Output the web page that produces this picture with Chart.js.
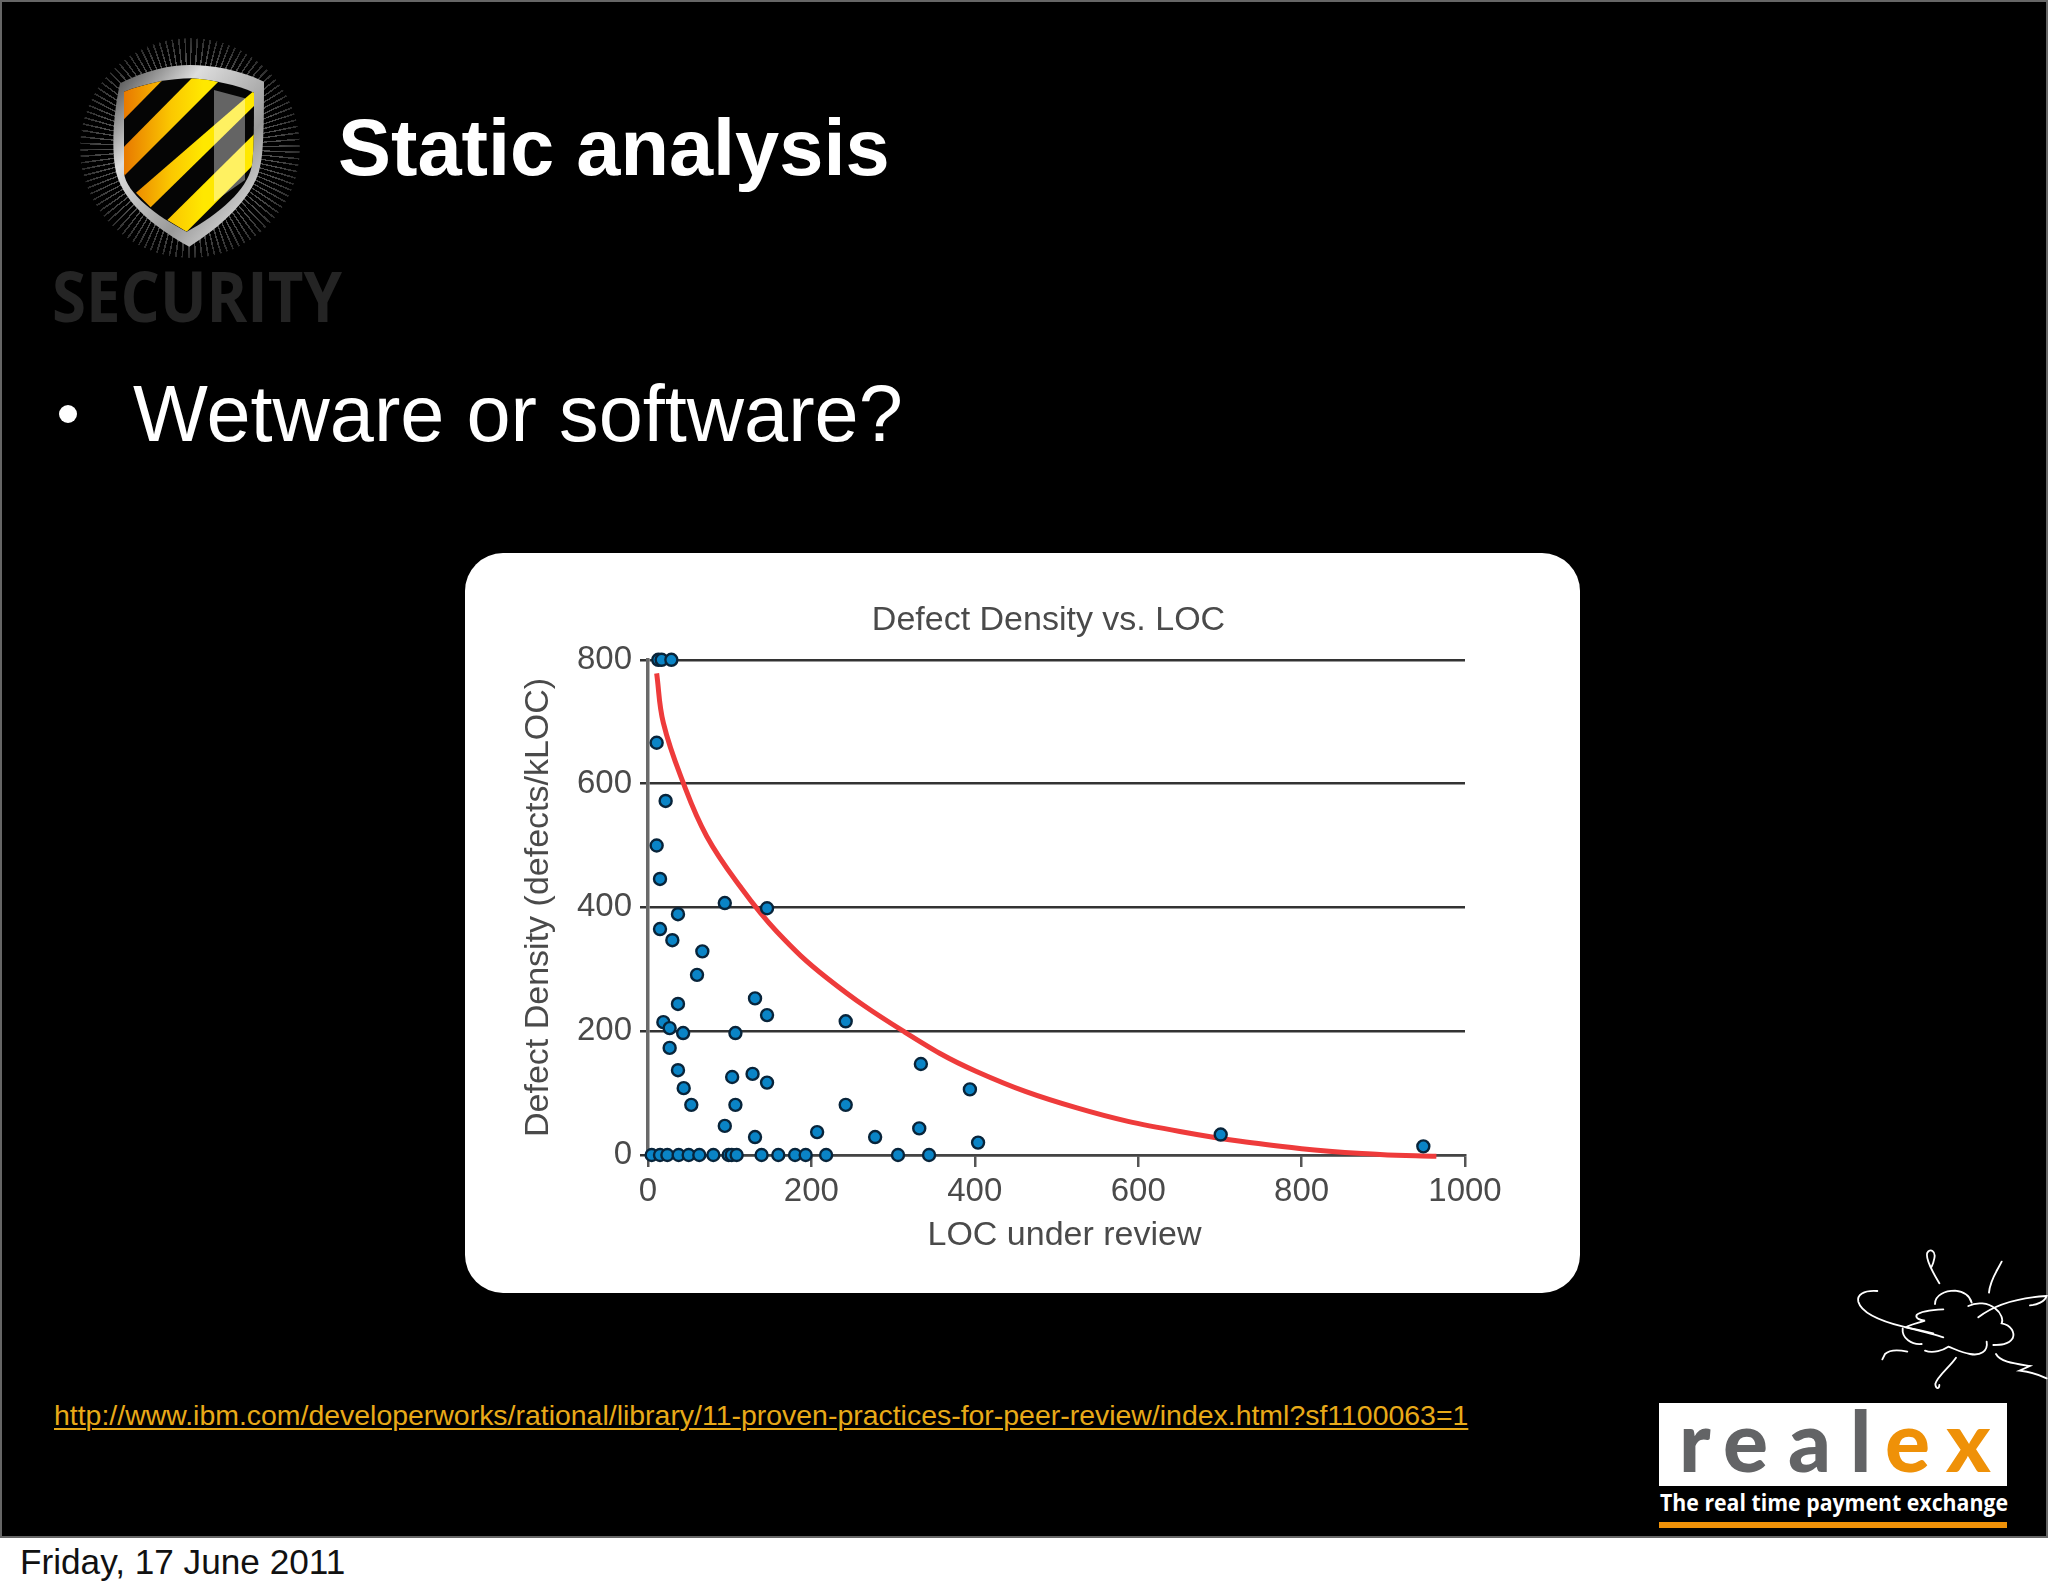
<!DOCTYPE html>
<html><head><meta charset="utf-8">
<style>
html,body{margin:0;padding:0;background:#fff;width:2048px;height:1593px;overflow:hidden;font-family:"Liberation Sans",Arial,sans-serif}
#slide{position:absolute;left:0;top:0;width:2044px;height:1534px;background:#000;border:2px solid #666}
.t{position:absolute;white-space:nowrap;margin:0;line-height:1}
#title{left:338px;top:108px;font-size:79.4px;font-weight:bold;color:#fff}
#bullet{left:133px;top:374px;font-size:79.3px;color:#fff}
#dot{position:absolute;left:59px;top:405px;width:18px;height:18px;border-radius:50%;background:#fff}
#panel{position:absolute;left:465px;top:553px;width:1115px;height:740px;background:#fff;border-radius:38px}
#wrap{position:absolute;left:465px;top:553px;width:1166px;height:740px}
#wrap canvas{filter:blur(.7px)}
#link{left:54px;top:1401px;font-size:28.45px;color:#e8aa18;text-decoration:underline;text-decoration-thickness:2px;text-underline-offset:3px}
#date{left:20px;top:1544px;font-size:35.2px;color:#111}
#rays{position:absolute;left:80px;top:38px;width:220px;height:220px;border-radius:50%;
background:repeating-conic-gradient(#999 0deg .9deg,transparent .9deg 3.4deg);
-webkit-mask-image:radial-gradient(circle,#000 55%,transparent 92%);mask-image:radial-gradient(circle,#000 55%,transparent 92%);opacity:.5;filter:blur(.5px)}
svg{position:absolute;left:0;top:0}
</style></head><body>
<div id="slide"></div>
<div id="rays"></div>
<svg width="2048" height="1593" viewBox="0 0 2048 1593">
<defs>
<linearGradient id="rim" x1="0" y1="0" x2="1" y2="1"><stop offset="0" stop-color="#3a3a3a"/><stop offset=".3" stop-color="#ddd"/><stop offset=".65" stop-color="#999"/><stop offset="1" stop-color="#fff"/></linearGradient>
<linearGradient id="band" gradientUnits="userSpaceOnUse" x1="190" y1="0" x2="430" y2="0"><stop offset="0" stop-color="#e87800"/><stop offset=".6" stop-color="#fbc800"/><stop offset="1" stop-color="#ffe800"/></linearGradient>
<clipPath id="inner"><path d="M192,215C260,190 330,175 395,175C460,180 530,195 582,218C582,300 582,400 575,440C560,510 480,580 380,635C290,590 200,520 192,460Z"/></clipPath>
</defs>
<g transform="translate(60,20) scale(.33333)">
<path fill="url(#rim)" d="M180,190C260,150 330,135 390,135C470,135 550,155 612,185C612,280 612,400 600,440C585,520 500,610 388,680C280,620 180,540 165,440C155,380 160,280 180,190Z"/>
<path fill="#050505" d="M192,215C260,190 330,175 395,175C460,180 530,195 582,218C582,300 582,400 575,440C560,510 480,580 380,635C290,590 200,520 192,460Z"/>
<g clip-path="url(#inner)" fill="url(#band)">
<polygon points="180,215 308,180 180,310"/>
<polygon points="180,392 400,170 475,185 180,480"/>
<polygon points="228,518 590,205 590,250 272,562"/>
<polygon points="322,600 590,335 590,425 380,635"/>
<polygon fill="#fff" fill-opacity=".38" points="462,210 555,235 555,480 462,545"/>
</g>
<text x="-24" y="905" font-family="Open Sans" font-weight="700" font-size="212" fill="#242424" textLength="870" lengthAdjust="spacingAndGlyphs">SECURITY</text>
</g>
<rect x="1659" y="1403" width="348" height="83" fill="#fff"/>
<text font-family="Lato" font-weight="900" font-size="84" y="1471.5" x="1679 1723 1788 1850" fill="#636466">real</text>
<text font-family="Lato" font-weight="900" font-size="84" y="1471.5" x="1885 1946" fill="#ef9108">ex</text>
<text x="1660" y="1511" font-family="Open Sans" font-weight="700" font-size="23" fill="#fff" textLength="348" lengthAdjust="spacingAndGlyphs">The real time payment exchange</text>
<rect x="1659" y="1522" width="348" height="6" fill="#ef9108"/>
<g transform="translate(1600,1230) scale(.33333)" fill="none" stroke="#fff" stroke-width="5.5" stroke-linecap="round">
<path d="M832,183C790,180 770,195 775,215C785,250 850,275 910,290C950,300 1000,312 1030,322"/>
<path d="M1030,238C990,240 960,245 950,255C945,265 960,270 975,272C950,280 925,285 918,292C950,298 980,305 1000,310"/>
<path d="M1005,222C1005,195 1035,182 1065,182C1095,185 1110,200 1115,218"/>
<path d="M1105,228C1130,215 1165,218 1185,235C1205,250 1210,270 1205,280C1235,285 1245,310 1238,325C1225,345 1200,345 1180,345"/>
<path d="M1160,335C1165,365 1140,378 1110,372C1085,368 1060,355 1045,350C1030,360 1000,372 975,362"/>
<path d="M965,342C935,345 905,325 908,295"/>
<path d="M1018,160C1000,130 975,85 982,68C990,55 1008,62 1003,85C1000,100 995,110 995,110"/>
<path d="M1205,95C1190,125 1170,150 1167,188"/>
<path d="M1135,262C1170,235 1230,205 1340,198C1335,215 1310,225 1290,226"/>
<path d="M1068,383C1050,410 1010,440 1006,462C1007,478 1018,478 1018,465"/>
<path d="M922,365C900,360 870,358 855,372L847,388"/>
<path d="M1188,372C1200,395 1240,400 1290,408L1258,422C1285,425 1320,435 1340,445"/>
</g>
</svg>
<h1 class="t" id="title">Static analysis</h1>
<div id="dot"></div>
<p class="t" id="bullet">Wetware or software?</p>
<div id="panel"></div>
<div id="wrap"><canvas id="c" width="1166" height="740"></canvas></div>
<a class="t" id="link">http://www.ibm.com/developerworks/rational/library/11-proven-practices-for-peer-review/index.html?sf1100063=1</a>
<p class="t" id="date">Friday, 17 June 2011</p>
<script src="https://cdn.jsdelivr.net/npm/chart.js@4"></script>
<script>
const chartTitle = "Defect Density vs. LOC";
const xTitle = "LOC under review";
const yTitle = "Defect Density (defects/kLOC)";
const xTicks = [0, 200, 400, 600, 800, 1000];
const yTicks = [0, 200, 400, 600, 800];
const reviewLoc = [12.6,16.7,28.6,10.6,21.6,10.6,14.7,94,145.7,36.7,14.7,29.8,66.5,60,131,36.7,145.7,242,18.8,26.5,43,107,26.5,334,36.7,128,103,145.7,43.7,394,53,107,242,94,207,332,131,278,404,701,949,4.5,14.7,23.7,37.5,49.8,62.8,80,98.7,102.4,108.5,139,159.5,180,193,218,306,344];
const reviewDensity = [800,800,800,666,572,500,446,407,398.6,389,365,347,329,291,253,244,226,216,214.6,205,197,197,173,147,137,131,126,117,108,106,81,81,81,47,37,43,29,29,20,33,14,0,0,0,0,0,0,0,0,0,0,0,0,0,0,0,0,0];
const trendLoc = [10.6,18.8,43.2,71.8,112.6,157.5,219,312.5,402,525,651,800,896,965];
const trendDensity = [778,698,601,515,434,361,286,200,135,76,38,10,1,-2];

const toXY = (xs, ys) => xs.map((x, i) => ({ x, y: ys[i] }));
const fixX = s => { s.height = 138; s.paddingLeft = s.paddingRight = s.paddingTop = s.paddingBottom = 0; };
const fixY = s => { s.width = 183; s.paddingLeft = s.paddingRight = s.paddingTop = s.paddingBottom = 0; };
const gray = "#4a4a4a";
const nudgeTitles = {
  id: "nudgeTitles",
  afterLayout(chart) {
    const tb = chart.titleBlock;
    if (tb) { tb.left -= 8; tb.right -= 8; }
    const s = chart.scales.x;
    if (!s._nudged) {
      const draw = s.drawTitle.bind(s);
      s.drawTitle = (...a) => { const c = chart.ctx; c.save(); c.translate(8, 1); draw(...a); c.restore(); };
      s._nudged = true;
    }
  }
};
Chart.defaults.font.family = '"Liberation Sans", Arial, sans-serif';
Chart.defaults.color = gray;
new Chart(document.getElementById("c"), {
  type: "scatter",
  plugins: [nudgeTitles],
  data: { datasets: [
    { label: "Reviews", data: toXY(reviewLoc, reviewDensity), order: 1, clip: false,
      pointRadius: 6, pointBorderWidth: 2.4, pointBackgroundColor: "#0a84c6", pointBorderColor: "#08243a" },
    { label: "Trend", data: toXY(trendLoc, trendDensity), order: 2, clip: false, showLine: true,
      tension: 0.4, borderColor: "#ee3b3b", borderWidth: 5, pointRadius: 0 }
  ]},
  options: {
    responsive: false, animation: false, devicePixelRatio: 1,
    layout: { padding: { left: 0, top: 0, right: 166, bottom: 0 } },
    plugins: {
      legend: { display: false }, tooltip: { enabled: false },
      title: { display: true, fullSize: false, text: chartTitle, color: gray, font: { size: 34, weight: "normal" }, padding: { top: 47, bottom: 19 } }
    },
    scales: {
      x: { type: "linear", min: 0, max: 1000, afterFit: fixX,
        afterBuildTicks: s => { s.ticks = xTicks.map(v => ({ value: v })); },
        border: { color: "#444", width: 2.5 },
        grid: { drawOnChartArea: false, drawTicks: true, tickLength: 12, color: "#555", lineWidth: 2.5 },
        ticks: { font: { size: 33 }, color: gray, padding: 5, maxRotation: 0, autoSkip: false, callback: v => String(v) },
        title: { display: true, text: xTitle, color: gray, font: { size: 34 }, padding: { top: 0, bottom: 38 } } },
      y: { type: "linear", min: 0, max: 800, afterFit: fixY,
        afterBuildTicks: s => { s.ticks = yTicks.map(v => ({ value: v })); },
        border: { color: "#6a6a6a", width: 3.5 },
        grid: { drawTicks: true, tickLength: 8, color: "#333", lineWidth: 2.5 },
        ticks: { font: { size: 33 }, color: gray, padding: 8, autoSkip: false, callback: v => String(v) },
        title: { display: true, text: yTitle, color: gray, font: { size: 34 }, padding: { top: 53, bottom: 0 } } }
    }
  }
});
</script>
</body></html>
